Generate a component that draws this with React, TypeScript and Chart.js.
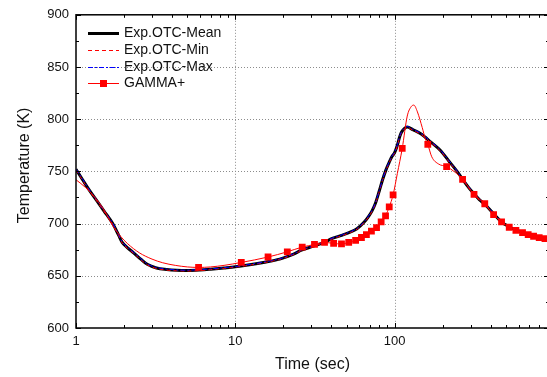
import React, { useEffect, useRef } from 'react';
import { Chart, registerables } from 'chart.js';

Chart.register(...registerables);

const FONT = "'Liberation Sans', Arial, Helvetica, sans-serif";

// ---- data ----
const seriesLabels = ['Exp.OTC-Mean', 'Exp.OTC-Min', 'Exp.OTC-Max', 'GAMMA+'];
const xTitle = 'Time (sec)';
const yTitle = 'Temperature (K)';

const meanTime = [1, 1.1, 1.2, 1.35, 1.5, 1.7, 1.85, 1.95, 2.1, 2.3, 2.55, 2.8, 3.2, 3.7, 4.3, 5, 6, 7, 8.5, 10, 12, 15, 19, 23, 26, 31, 36, 41, 47, 53, 58, 64, 68, 72, 76, 80, 84, 88, 92, 96, 100, 104, 107, 110, 115, 120, 130, 146, 169, 194, 220, 248, 267, 290, 315, 340, 368, 418, 469, 524, 577, 635, 689, 745, 808, 878, 940];
const meanTemp = [752, 742, 733, 722, 712, 700, 689, 682, 677, 672, 666, 661, 657.5, 656, 655.2, 655, 655.5, 656.3, 657.5, 658.6, 660.3, 662.8, 666, 670.5, 674.5, 678.5, 682, 686, 689, 692, 695, 701, 706, 712, 720, 731, 742, 751, 758, 764, 768, 775, 782, 787, 791, 792.5, 790, 786, 778, 770, 759.5, 749.5, 742.5, 735, 728.5, 723, 718.5, 709.5, 701.5, 697, 694, 691.5, 689.5, 688, 687, 686, 685];

const minTime = [1, 1.1, 1.2, 1.35, 1.5, 1.7, 1.85, 1.95, 2.1, 2.3, 2.55, 2.8, 3.2, 3.7, 4.3, 5, 6, 7, 8.5, 10, 12, 15, 19, 23, 26, 31, 36, 41, 47, 53, 58, 64, 68, 72, 76, 80, 84, 88, 92, 96, 100, 104, 107, 110, 115, 120, 130, 146, 169, 194, 220, 248, 267, 290, 315, 340, 368, 418, 469, 524, 577, 635, 689, 745, 808, 878, 940];
const minTemp = [751.5, 741.5, 732.5, 721.5, 711.5, 699.5, 688.5, 681.5, 676.5, 671.5, 665.5, 660.5, 657, 655.5, 654.8, 654.6, 655, 656, 657.2, 658.3, 660, 662.5, 665.7, 670.2, 674.2, 678.2, 681.7, 685.6, 688.6, 691.6, 694.6, 700.5, 705.5, 711.5, 719.5, 730.5, 741.5, 750.5, 757.5, 763.5, 767.5, 774.5, 781.5, 786.5, 790.5, 792, 789.5, 785.5, 777.5, 769.5, 759, 749, 742, 734.5, 728, 722.5, 718, 709, 701, 696.6, 693.6, 691.1, 689.1, 687.6, 686.6, 685.6, 684.6];

const maxTime = [1, 1.1, 1.2, 1.35, 1.5, 1.7, 1.85, 1.95, 2.1, 2.3, 2.55, 2.8, 3.2, 3.7, 4.3, 5, 6, 7, 8.5, 10, 12, 15, 19, 23, 26, 31, 36, 41, 47, 53, 58, 64, 68, 72, 76, 80, 84, 88, 92, 96, 100, 104, 107, 110, 115, 120, 130, 146, 169, 194, 220, 248, 267, 290, 315, 340, 368, 418, 469, 524, 577, 635, 689, 745, 808, 878, 940];
const maxTemp = [752.5, 742.5, 733.5, 722.5, 712.5, 700.5, 689.5, 682.5, 677.5, 672.5, 666.5, 661.5, 658, 656.5, 655.6, 655.4, 656, 656.6, 657.8, 658.9, 660.6, 663.1, 666.3, 670.8, 674.8, 678.8, 682.3, 686.4, 689.4, 692.4, 695.4, 701.5, 706.5, 712.5, 720.5, 731.5, 742.5, 751.5, 758.5, 764.5, 768.5, 775.5, 782.5, 787.5, 791.5, 793, 790.5, 786.5, 778.5, 770.5, 760, 750, 743, 735.5, 729, 723.5, 719, 710, 702, 697.4, 694.4, 691.9, 689.9, 688.4, 687.4, 686.4, 685.4];

const gammaTime = [1, 1.15, 1.3, 1.5, 1.7, 1.9, 2.1, 2.5, 3.0, 3.5, 4.2, 5.0, 5.88, 7, 8.5, 10.9, 16.05, 21.2, 26.3, 31.4, 36.3, 41.4, 46.4, 51.5, 56.9, 61.9, 66.5, 71.5, 77.0, 82.3, 87.7, 92.5, 97.8, 104, 111.6, 120, 127, 132, 139, 149, 156, 161.5, 171, 189, 212, 238, 267, 315, 368, 418, 469, 524, 577, 635, 689, 745, 808, 878, 940];
const gammaTemp = [742, 734.5, 726, 713, 698, 688, 681, 672, 666, 662.5, 660, 658.5, 658, 658.5, 660, 662.8, 668, 673, 677.5, 680, 682, 681, 680.5, 682, 684, 686.7, 689.5, 692.7, 696.2, 701.6, 707.5, 716, 727.5, 748, 772, 803, 812, 813.5, 807, 792, 781, 775.8, 764, 757, 754.6, 749.5, 742.4, 728, 719, 708.5, 701.6, 696.5, 693.6, 691.4, 689.4, 687.9, 686.6, 685.7, 685.3];

const gammaMarkTime = [5.88, 10.9, 16.05, 21.2, 26.3, 31.4, 36.3, 41.4, 46.4, 51.5, 56.9, 61.9, 66.5, 71.5, 77.0, 82.3, 87.7, 92.5, 97.8, 111.6, 161.5, 212, 267, 315, 368, 418, 469, 524, 577, 635, 689, 745, 808, 878];
const gammaMarkTemp = [658, 662.8, 668, 673, 677.5, 680, 682, 681, 680.5, 682, 684, 686.7, 689.5, 692.7, 696.2, 701.6, 707.5, 716, 727.5, 772, 775.8, 754.6, 742.4, 728, 719, 708.5, 701.6, 696.5, 693.6, 691.4, 689.4, 687.9, 686.6, 685.7];

const xMin = 1;
const xMax = 931;
const xMajorTicks = [1, 10, 100];
const xMinorTicks = [2, 3, 4, 5, 6, 7, 8, 9, 20, 30, 40, 50, 60, 70, 80, 90, 200, 300, 400, 500, 600, 700, 800, 900];
const yMin = 600;
const yMax = 900;
const yStep = 50;

function pts(xs: number[], ys: number[]) {
  return xs.map((x, i) => ({ x, y: ys[i] }));
}

const framePlugin = {
  id: 'framePlugin',
  beforeDatasetsDraw(chart: any) {
    const { ctx, chartArea, scales } = chart;
    const { left, right, top, bottom } = chartArea;
    const xs = scales.x;
    const ys = scales.y;
    ctx.save();
    ctx.strokeStyle = '#8c8c8c';
    ctx.lineWidth = 1;
    ctx.setLineDash([1, 2]);
    for (const v of xMajorTicks) {
      const px = Math.round(xs.getPixelForValue(v)) + 0.5;
      if (px <= left + 2 || px >= right - 2) continue;
      ctx.beginPath();
      ctx.moveTo(px, top);
      ctx.lineTo(px, bottom);
      ctx.stroke();
    }
    for (const t of ys.ticks) {
      const py = Math.round(ys.getPixelForValue(t.value)) + 0.5;
      if (py <= top + 2 || py >= bottom - 2) continue;
      ctx.beginPath();
      ctx.moveTo(left, py);
      ctx.lineTo(right, py);
      ctx.stroke();
    }
    ctx.restore();
  },
  afterDatasetsDraw(chart: any) {
    const { ctx, chartArea, scales } = chart;
    const { left, right, top, bottom } = chartArea;
    const xs = scales.x;
    const ys = scales.y;
    ctx.save();
    ctx.setLineDash([]);
    ctx.strokeStyle = '#000';
    ctx.lineWidth = 1.5;
    ctx.strokeRect(left, top, right - left, bottom - top);
    ctx.lineWidth = 1;
    const major = 5;
    const minor = 3;
    const vtick = (v: number, len: number) => {
      const px = Math.round(xs.getPixelForValue(v)) + 0.5;
      ctx.beginPath();
      ctx.moveTo(px, bottom);
      ctx.lineTo(px, bottom - len);
      ctx.moveTo(px, top);
      ctx.lineTo(px, top + len);
      ctx.stroke();
    };
    const htick = (v: number, len: number) => {
      const py = Math.round(ys.getPixelForValue(v)) + 0.5;
      ctx.beginPath();
      ctx.moveTo(left, py);
      ctx.lineTo(left + len, py);
      ctx.moveTo(right, py);
      ctx.lineTo(right - len, py);
      ctx.stroke();
    };
    xMajorTicks.forEach((v) => vtick(v, major));
    xMinorTicks.forEach((v) => vtick(v, minor));
    const yt = ys.ticks.map((t: any) => t.value);
    yt.forEach((v: number) => htick(v, major));
    for (let i = 0; i < yt.length - 1; i++) htick((yt[i] + yt[i + 1]) / 2, minor);

    // legend
    const lx0 = left + 12;
    const lx1 = left + 43;
    const tx = left + 48;
    const ry0 = top + 18.5;
    const gap = 16.6;
    ctx.font = `14px ${FONT}`;
    ctx.textBaseline = 'middle';
    ctx.textAlign = 'left';
    const entries = chart.data.datasets.filter((d: any) => !d.hideInLegend);
    entries.forEach((d: any, i: number) => {
      const y = Math.round(ry0 + i * gap) + 0.5;
      ctx.save();
      ctx.strokeStyle = d.borderColor;
      ctx.lineWidth = d.borderWidth;
      ctx.setLineDash(d.borderDash || []);
      ctx.beginPath();
      ctx.moveTo(lx0, y);
      ctx.lineTo(lx1, y);
      ctx.stroke();
      ctx.restore();
      if (d.legendMarker) {
        ctx.fillStyle = d.borderColor;
        ctx.fillRect((lx0 + lx1) / 2 - 3.5, y - 3.5, 7, 7);
      }
      ctx.fillStyle = '#111';
      ctx.fillText(d.label, tx, y);
    });

    // y-axis title
    ctx.save();
    ctx.translate(24.5, (top + bottom) / 2 - 6);
    ctx.rotate(-Math.PI / 2);
    ctx.font = `16px ${FONT}`;
    ctx.textAlign = 'center';
    ctx.textBaseline = 'middle';
    ctx.fillStyle = '#111';
    ctx.fillText(yTitle, 0, 0);
    ctx.restore();
    ctx.restore();
  },
};

export default function App() {
  const ref = useRef<HTMLCanvasElement | null>(null);
  useEffect(() => {
    document.body.style.margin = '0';
    const canvas = ref.current;
    if (!canvas) return;
    Chart.defaults.font.family = FONT;
    const chart = new Chart(canvas, {
      type: 'line',
      data: {
        datasets: [
          {
            label: seriesLabels[3] + ' markers',
            hideInLegend: true,
            data: pts(gammaMarkTime, gammaMarkTemp),
            showLine: false,
            pointStyle: 'rect',
            pointRadius: 4.8,
            pointBackgroundColor: '#ff0000',
            pointBorderColor: '#ff0000',
            pointBorderWidth: 0,
            order: 0,
          } as any,
          {
            label: seriesLabels[0],
            data: pts(meanTime, meanTemp),
            borderColor: '#000000',
            borderWidth: 3,
            pointRadius: 0,
            cubicInterpolationMode: 'monotone',
            order: 4,
          },
          {
            label: seriesLabels[1],
            data: pts(minTime, minTemp),
            borderColor: '#ff0000',
            borderWidth: 1,
            borderDash: [4, 3],
            pointRadius: 0,
            cubicInterpolationMode: 'monotone',
            order: 3,
          },
          {
            label: seriesLabels[2],
            data: pts(maxTime, maxTemp),
            borderColor: '#0000ff',
            borderWidth: 1,
            borderDash: [5, 2, 2, 2],
            pointRadius: 0,
            cubicInterpolationMode: 'monotone',
            order: 2,
          },
          {
            label: seriesLabels[3],
            legendMarker: true,
            data: pts(gammaTime, gammaTemp),
            borderColor: '#ff0000',
            borderWidth: 1,
            pointRadius: 0,
            cubicInterpolationMode: 'monotone',
            order: 1,
          } as any,
        ],
      },
      options: {
        animation: false,
        responsive: false,
        maintainAspectRatio: false,
        layout: { autoPadding: false, padding: { top: 14, right: 0, left: 0, bottom: 0 } },
        plugins: { legend: { display: false }, tooltip: { enabled: false } },
        scales: {
          x: {
            type: 'logarithmic',
            min: xMin,
            max: xMax,
            afterBuildTicks: (s: any) => {
              s.ticks = xMajorTicks.map((v) => ({ value: v }));
            },
            afterFit: (s: any) => {
              s.height = 49;
            },
            grid: { display: false, drawTicks: false },
            border: { display: false },
            ticks: {
              autoSkip: false,
              maxRotation: 0,
              padding: 6,
              color: '#111',
              font: { size: 13, family: FONT },
              callback: (v: any) => String(v),
            },
            title: {
              display: true,
              text: xTitle,
              color: '#111',
              font: { size: 16, family: FONT },
              padding: { top: 0, bottom: 3 },
            },
          },
          y: {
            type: 'linear',
            min: yMin,
            max: yMax,
            afterFit: (s: any) => {
              s.width = 76;
            },
            grid: { display: false, drawTicks: false },
            border: { display: false },
            ticks: {
              stepSize: yStep,
              padding: 7,
              color: '#111',
              font: { size: 13, family: FONT },
            },
            title: { display: false },
          },
        },
      } as any,
      plugins: [framePlugin],
    });
    return () => chart.destroy();
  }, []);
  return (
    <div style={{ width: 547, height: 377, overflow: 'hidden' }}>
      <canvas ref={ref} width={549} height={377} style={{ display: 'block', width: 549, height: 377 }} />
    </div>
  );
}
